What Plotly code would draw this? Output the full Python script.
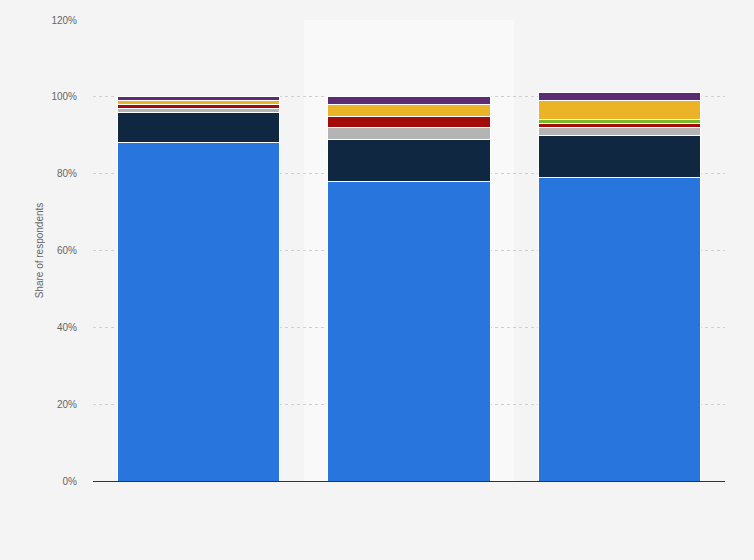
import plotly.graph_objects as go

# three groups, no labels shown on the x axis
groups = ["Group 1", "Group 2", "Group 3"]

# shares in percent, stacked bottom to top
blue = [88, 78, 79]
navy = [8, 11, 11]
grey = [1, 3, 2]
red = [1, 3, 1]
green = [0, 0, 1]
yellow = [1, 3, 5]
purple = [1, 2, 2]

series = [
    ("Series 1", blue, "#2876dd"),
    ("Series 2", navy, "#0f2741"),
    ("Series 3", grey, "#b4b4b4"),
    ("Series 4", red, "#a30b0b"),
    ("Series 5", green, "#7ab82c"),
    ("Series 6", yellow, "#ebb327"),
    ("Series 7", purple, "#5b2b74"),
]

y_ticks = [0, 20, 40, 60, 80, 100, 120]

fig = go.Figure()
for name, vals, color in series:
    fig.add_trace(go.Bar(
        x=groups, y=vals, name=name,
        marker=dict(color=color, line=dict(color="#ffffff", width=1)),
    ))

# lighter band behind the middle bar (hover highlight)
fig.add_shape(
    type="rect", xref="x", yref="y",
    x0=0.5, x1=1.5, y0=0, y1=120,
    fillcolor="#f9f9f9", line=dict(width=0), layer="below",
)

fig.update_layout(
    barmode="stack",
    bargap=0.23,
    width=754, height=560,
    margin=dict(l=93, r=29, t=20, b=79),
    paper_bgcolor="#f4f4f4",
    plot_bgcolor="#f4f4f4",
    showlegend=False,
    font=dict(family="Liberation Sans, Arial, sans-serif", size=10, color="#666666"),
    xaxis=dict(
        showticklabels=False, showgrid=False, zeroline=False,
        showline=True, linecolor="#333333", linewidth=1,
    ),
    yaxis=dict(
        range=[0, 120], tickvals=y_ticks,
        ticktext=[f"{v}%" for v in y_ticks],
        showgrid=True, gridcolor="#d0d0d0", griddash="dot", gridwidth=1,
        zeroline=False, ticks="", ticklabelstandoff=15,
        title=dict(text="Share of respondents", font=dict(size=10, color="#666666"), standoff=5),
        tickfont=dict(size=10, color="#666666"),
    ),
)

fig.write_html("out.html", config={"displayModeBar": False},
               post_script="document.body.style.margin='0';")
